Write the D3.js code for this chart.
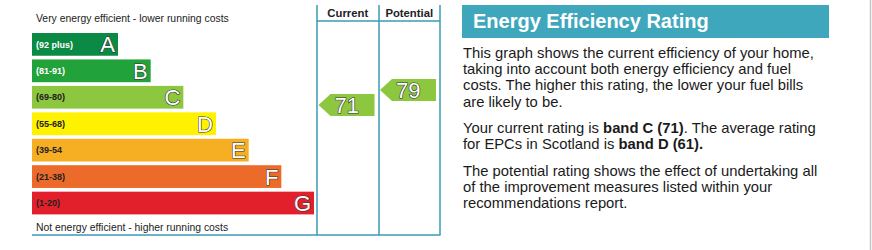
<!DOCTYPE html>
<html>
<head>
<meta charset="utf-8">
<script src="https://cdn.jsdelivr.net/npm/d3@7"></script>
<style>
  html, body { margin: 0; padding: 0; background: #fff; }
  svg { display: block; font-family: "Liberation Sans", Arial, sans-serif; }
</style>
</head>
<body>
<svg id="epc" width="872" height="250"></svg>
<script>
// band data
const bands = ["A", "B", "C", "D", "E", "F", "G"];
const ranges = ["(92 plus)", "(81-91)", "(69-80)", "(55-68)", "(39-54", "(21-38)", "(1-20)"];
const bandColors = ["#0a8a44", "#21a23a", "#8dc63f", "#fff200", "#f6ae22", "#ec6b2b", "#e2202c"];
const rangeTextColors = ["#fff", "#fff", "#222", "#222", "#222", "#222", "#222"];
const columns = ["Current", "Potential"];
const ratings = [71, 79];

const titleText = "Energy Efficiency Rating";
const paragraphs = [
  [["This graph shows the current efficiency of your home,"],
   ["taking into account both energy efficiency and fuel"],
   ["costs. The higher this rating, the lower your fuel bills"],
   ["are likely to be."]],
  [["Your current rating is ", "b:band C (71)", ". The average rating"],
   ["for EPCs in Scotland is ", "b:band D (61)."]],
  [["The potential rating shows the effect of undertaking all"],
   ["of the improvement measures listed within your"],
   ["recommendations report."]]
];

const svg = d3.select("#epc");
const teal = "#3a9bb5";

const y = d3.scaleBand().domain(bands).range([33, 214.4]).paddingInner(0.14).paddingOuter(0);
const barEnd = d3.scaleLinear().domain([0, 6]).range([118, 314]);
const ratingY = d3.scaleLinear().domain([0, 100]).range([238.1, 50.6]);
const colX = d3.scaleBand().domain(columns).range([317, 440]);

// frame
const frame = svg.append("g").attr("stroke", teal).attr("stroke-width", 1.5);
frame.append("line").attr("x1", 32).attr("x2", 440.5).attr("y1", 235).attr("y2", 235);
[317, 379, 440].forEach((x) => {
  frame.append("line").attr("x1", x).attr("x2", x).attr("y1", 5).attr("y2", 235);
});
frame.append("line").attr("x1", 317).attr("x2", 440).attr("y1", 21).attr("y2", 21);

svg.selectAll(".col-head")
  .data(columns)
  .join("text")
  .attr("x", (d) => colX(d) + colX.bandwidth() / 2)
  .attr("y", 17)
  .attr("text-anchor", "middle")
  .attr("font-size", 11.3)
  .attr("font-weight", "bold")
  .attr("fill", "#222")
  .text((d) => d);

svg.append("text").attr("x", 36).attr("y", 22).attr("font-size", 10.4).attr("fill", "#222")
  .text("Very energy efficient - lower running costs");
svg.append("text").attr("x", 36).attr("y", 231).attr("font-size", 10.4).attr("fill", "#222")
  .text("Not energy efficient - higher running costs");

// bars
const bar = svg.selectAll(".band")
  .data(bands)
  .join("g")
  .attr("class", "band");

bar.append("rect")
  .attr("x", 32)
  .attr("y", (d) => y(d))
  .attr("width", (d, i) => barEnd(i) - 32)
  .attr("height", y.bandwidth())
  .attr("fill", (d, i) => bandColors[i]);

bar.append("text")
  .attr("x", 36)
  .attr("y", (d) => y(d) + y.bandwidth() / 2 + 3.2)
  .attr("font-size", 9)
  .attr("font-weight", "bold")
  .attr("fill", (d, i) => rangeTextColors[i])
  .text((d, i) => ranges[i]);

bar.append("text")
  .attr("x", (d, i) => barEnd(i) - 3)
  .attr("y", (d) => y(d) + y.bandwidth() / 2 + 8)
  .attr("text-anchor", "end")
  .attr("font-size", 22)
  .attr("fill", "#fff")
  .attr("stroke", "#333")
  .attr("stroke-width", 1.2)
  .attr("paint-order", "stroke")
  .text((d) => d);

// rating arrows
function bandOf(v) {
  if (v >= 92) return 0;
  if (v >= 81) return 1;
  if (v >= 69) return 2;
  if (v >= 55) return 3;
  if (v >= 39) return 4;
  if (v >= 21) return 5;
  return 6;
}

const arrowH = 22;
const arrow = svg.selectAll(".rating")
  .data(ratings)
  .join("g")
  .attr("class", "rating");

arrow.append("path")
  .attr("d", (d, i) => {
    const x0 = colX(columns[i]) + 1.5;
    const x1 = colX(columns[i]) + colX.bandwidth() - 4;
    const cy = ratingY(d);
    const t = cy - arrowH / 2;
    const b = cy + arrowH / 2;
    return `M${x0},${cy}L${x0 + 12},${t}L${x1},${t}L${x1},${b}L${x0 + 12},${b}Z`;
  })
  .attr("fill", (d) => bandColors[bandOf(d)]);

arrow.append("text")
  .attr("x", (d, i) => colX(columns[i]) + colX.bandwidth() / 2 - 1)
  .attr("y", (d) => ratingY(d) + 8)
  .attr("text-anchor", "middle")
  .attr("font-size", 22)
  .attr("fill", "#fff")
  .attr("stroke", "#333")
  .attr("stroke-width", 1.2)
  .attr("paint-order", "stroke")
  .text((d) => d);

// right panel
svg.append("rect").attr("x", 462).attr("y", 5).attr("width", 367).attr("height", 33).attr("fill", "#3fa7bc");
svg.append("text").attr("x", 473).attr("y", 28).attr("font-size", 20).attr("font-weight", "bold")
  .attr("fill", "#fff").text(titleText);

const paraTop = [58, 133, 176];
const lineH = 16.2;
paragraphs.forEach((para, p) => {
  para.forEach((line, l) => {
    const t = svg.append("text")
      .attr("x", 463)
      .attr("y", paraTop[p] + l * lineH)
      .attr("font-size", 14.8)
      .attr("fill", "#1a1a1a");
    line.forEach((seg) => {
      const bold = seg.startsWith("b:");
      t.append("tspan")
        .attr("font-weight", bold ? "bold" : null)
        .text(bold ? seg.slice(2) : seg);
    });
  });
});

svg.append("line").attr("x1", 870.5).attr("x2", 870.5).attr("y1", 0).attr("y2", 250)
  .attr("stroke", "#c4c4c4").attr("stroke-width", 1.5);
</script>
</body>
</html>
